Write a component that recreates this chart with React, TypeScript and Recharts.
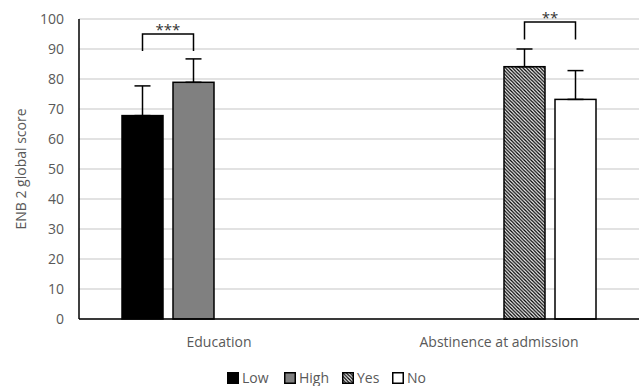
import React from "react";
import { BarChart, Bar, XAxis, YAxis, CartesianGrid, ErrorBar, Legend } from "recharts";

const categories = ["Education", "Abstinence at admission"];
const seriesNames = ["Low", "High", "Yes", "No"];
const lowValues: (number | null)[] = [67.8, null];
const highValues: (number | null)[] = [78.9, null];
const yesValues: (number | null)[] = [null, 84.1];
const noValues: (number | null)[] = [null, 73.2];
const lowErrors: (number | null)[] = [9.9, null];
const highErrors: (number | null)[] = [7.8, null];
const yesErrors: (number | null)[] = [null, 5.9];
const noErrors: (number | null)[] = [null, 9.6];
const yTicks = [0, 10, 20, 30, 40, 50, 60, 70, 80, 90, 100];
const bracketLeft = ["Low", "Yes"];
const bracketRight = ["High", "No"];
const bracketTop = [95, 99];
const bracketLegBottom = [89.3, 93.2];
const sigLabels = ["***", "**"];

const valuesBySeries = [lowValues, highValues, yesValues, noValues];
const errorsBySeries = [lowErrors, highErrors, yesErrors, noErrors];

const data = categories.map((c, i) => {
  const row: any = { category: c };
  seriesNames.forEach((s, k) => {
    row[s] = valuesBySeries[k][i];
    const e = errorsBySeries[k][i];
    row[s + "Err"] = e == null ? null : [0, e];
  });
  return row;
});

const FONT = "'Open Sans', 'Noto Sans', sans-serif";
const TEXT = "#595959";
const BAR_GAP = 10;
const fills: Record<string, string> = {
  Low: "#000000",
  High: "#808080",
  Yes: "url(#hatch)",
  No: "#ffffff",
};

const makeShape = (key: string) => (props: any) => {
  const { x, y, width, height, payload } = props;
  const v = payload ? payload[key] : null;
  if (v == null || !isFinite(height)) return <g />;
  const ci = categories.indexOf(payload.category);
  let bracket = null;
  if (ci >= 0 && bracketRight[ci] === key && bracketLeft[ci] != null && v > 0) {
    const ppu = height / v;
    const base = y + height;
    const rightCx = x + width / 2;
    const leftCx = rightCx - (width + BAR_GAP);
    const yTop = base - bracketTop[ci] * ppu;
    const yLeg = base - bracketLegBottom[ci] * ppu;
    bracket = (
      <g>
        <path
          d={`M${leftCx},${yLeg} L${leftCx},${yTop} L${rightCx},${yTop} L${rightCx},${yLeg}`}
          fill="none"
          stroke="#000"
          strokeWidth={1.5}
        />
        <text
          x={(leftCx + rightCx) / 2}
          y={yTop + 0.5}
          textAnchor="middle"
          fontFamily={FONT}
          fontSize={15}
          fill="#333"
        >
          {sigLabels[ci]}
        </text>
      </g>
    );
  }
  return (
    <g>
      <rect x={x} y={y} width={width} height={height} fill={fills[key]} stroke="#000" strokeWidth={1.5} />
      {bracket}
    </g>
  );
};

const legendItemWidths = [57, 58, 50, 40];

const LegendIcon = ({ name }: { name: string }) => (
  <svg width={12} height={12} style={{ marginRight: 3, display: "block" }}>
    <defs>
      <pattern id="hatchLegend" patternUnits="userSpaceOnUse" width={3.5} height={3.5}>
        <rect width={3.5} height={3.5} fill="#fff" />
        <path d="M-1,-1 L4.5,4.5 M2.5,-1 L4.5,1 M-1,2.5 L1,4.5" stroke="#000" strokeWidth={1.3} />
      </pattern>
    </defs>
    <rect
      x={0.75}
      y={0.75}
      width={10.5}
      height={10.5}
      fill={name === "Yes" ? "url(#hatchLegend)" : fills[name]}
      stroke="#000"
      strokeWidth={1.5}
    />
  </svg>
);

const renderLegend = () => (
  <div
    style={{
      display: "flex",
      justifyContent: "flex-start",
      alignItems: "center",
      fontFamily: FONT,
      fontSize: 14,
      color: TEXT,
      paddingLeft: 227,
      height: 20,
      paddingTop: 3,
      boxSizing: "border-box",
    }}
  >
    {seriesNames.map((s, k) => (
      <div key={s} style={{ display: "flex", alignItems: "center", width: legendItemWidths[k] }}>
        <LegendIcon name={s} />
        <span>{s}</span>
      </div>
    ))}
  </div>
);

const YLabel = (props: any) => {
  const vb = props.viewBox || {};
  const cy = (vb.y || 0) + (vb.height || 0) / 2;
  return (
    <text
      x={20}
      y={cy}
      transform={`rotate(-90, 20, ${cy})`}
      textAnchor="middle"
      dominantBaseline="central"
      fontFamily={FONT}
      fontSize={14}
      fill={TEXT}
    >
      ENB 2 global score
    </text>
  );
};

export default function App() {
  return (
    <div>
      <style>{"body{margin:0;background:#fff}"}</style>
      <BarChart
        width={639}
        height={386}
        data={data}
        margin={{ top: 19, right: 0, bottom: 0, left: 0 }}
        barSize={41}
        barGap={BAR_GAP}
      >
        <defs>
          <pattern id="hatch" patternUnits="userSpaceOnUse" width={3.5} height={3.5}>
            <rect width={3.5} height={3.5} fill="#fff" />
            <path d="M-1,-1 L4.5,4.5 M2.5,-1 L4.5,1 M-1,2.5 L1,4.5" stroke="#000" strokeWidth={1.3} />
          </pattern>
        </defs>
        <CartesianGrid vertical={false} stroke="#d9d9d9" strokeWidth={1.5} />
        <XAxis
          dataKey="category"
          height={47}
          axisLine={{ stroke: "#000", strokeWidth: 1.5 }}
          tickLine={false}
          tickMargin={12}
          tick={{ fill: TEXT, fontSize: 14, fontFamily: FONT }}
        />
        <YAxis
          width={79}
          domain={[0, 100]}
          ticks={yTicks}
          interval={0}
          axisLine={{ stroke: "#000", strokeWidth: 1.5 }}
          tickLine={false}
          tickMargin={9}
          tick={{ fill: TEXT, fontSize: 14, fontFamily: FONT }}
          label={<YLabel />}
        />
        <Legend verticalAlign="bottom" height={20} content={renderLegend} />
        {seriesNames.map((s) => (
          <Bar key={s} dataKey={s} isAnimationActive={false} shape={makeShape(s)}>
            <ErrorBar dataKey={s + "Err"} width={8} stroke="#000" strokeWidth={1.5} direction="y" />
          </Bar>
        ))}
      </BarChart>
    </div>
  );
}
